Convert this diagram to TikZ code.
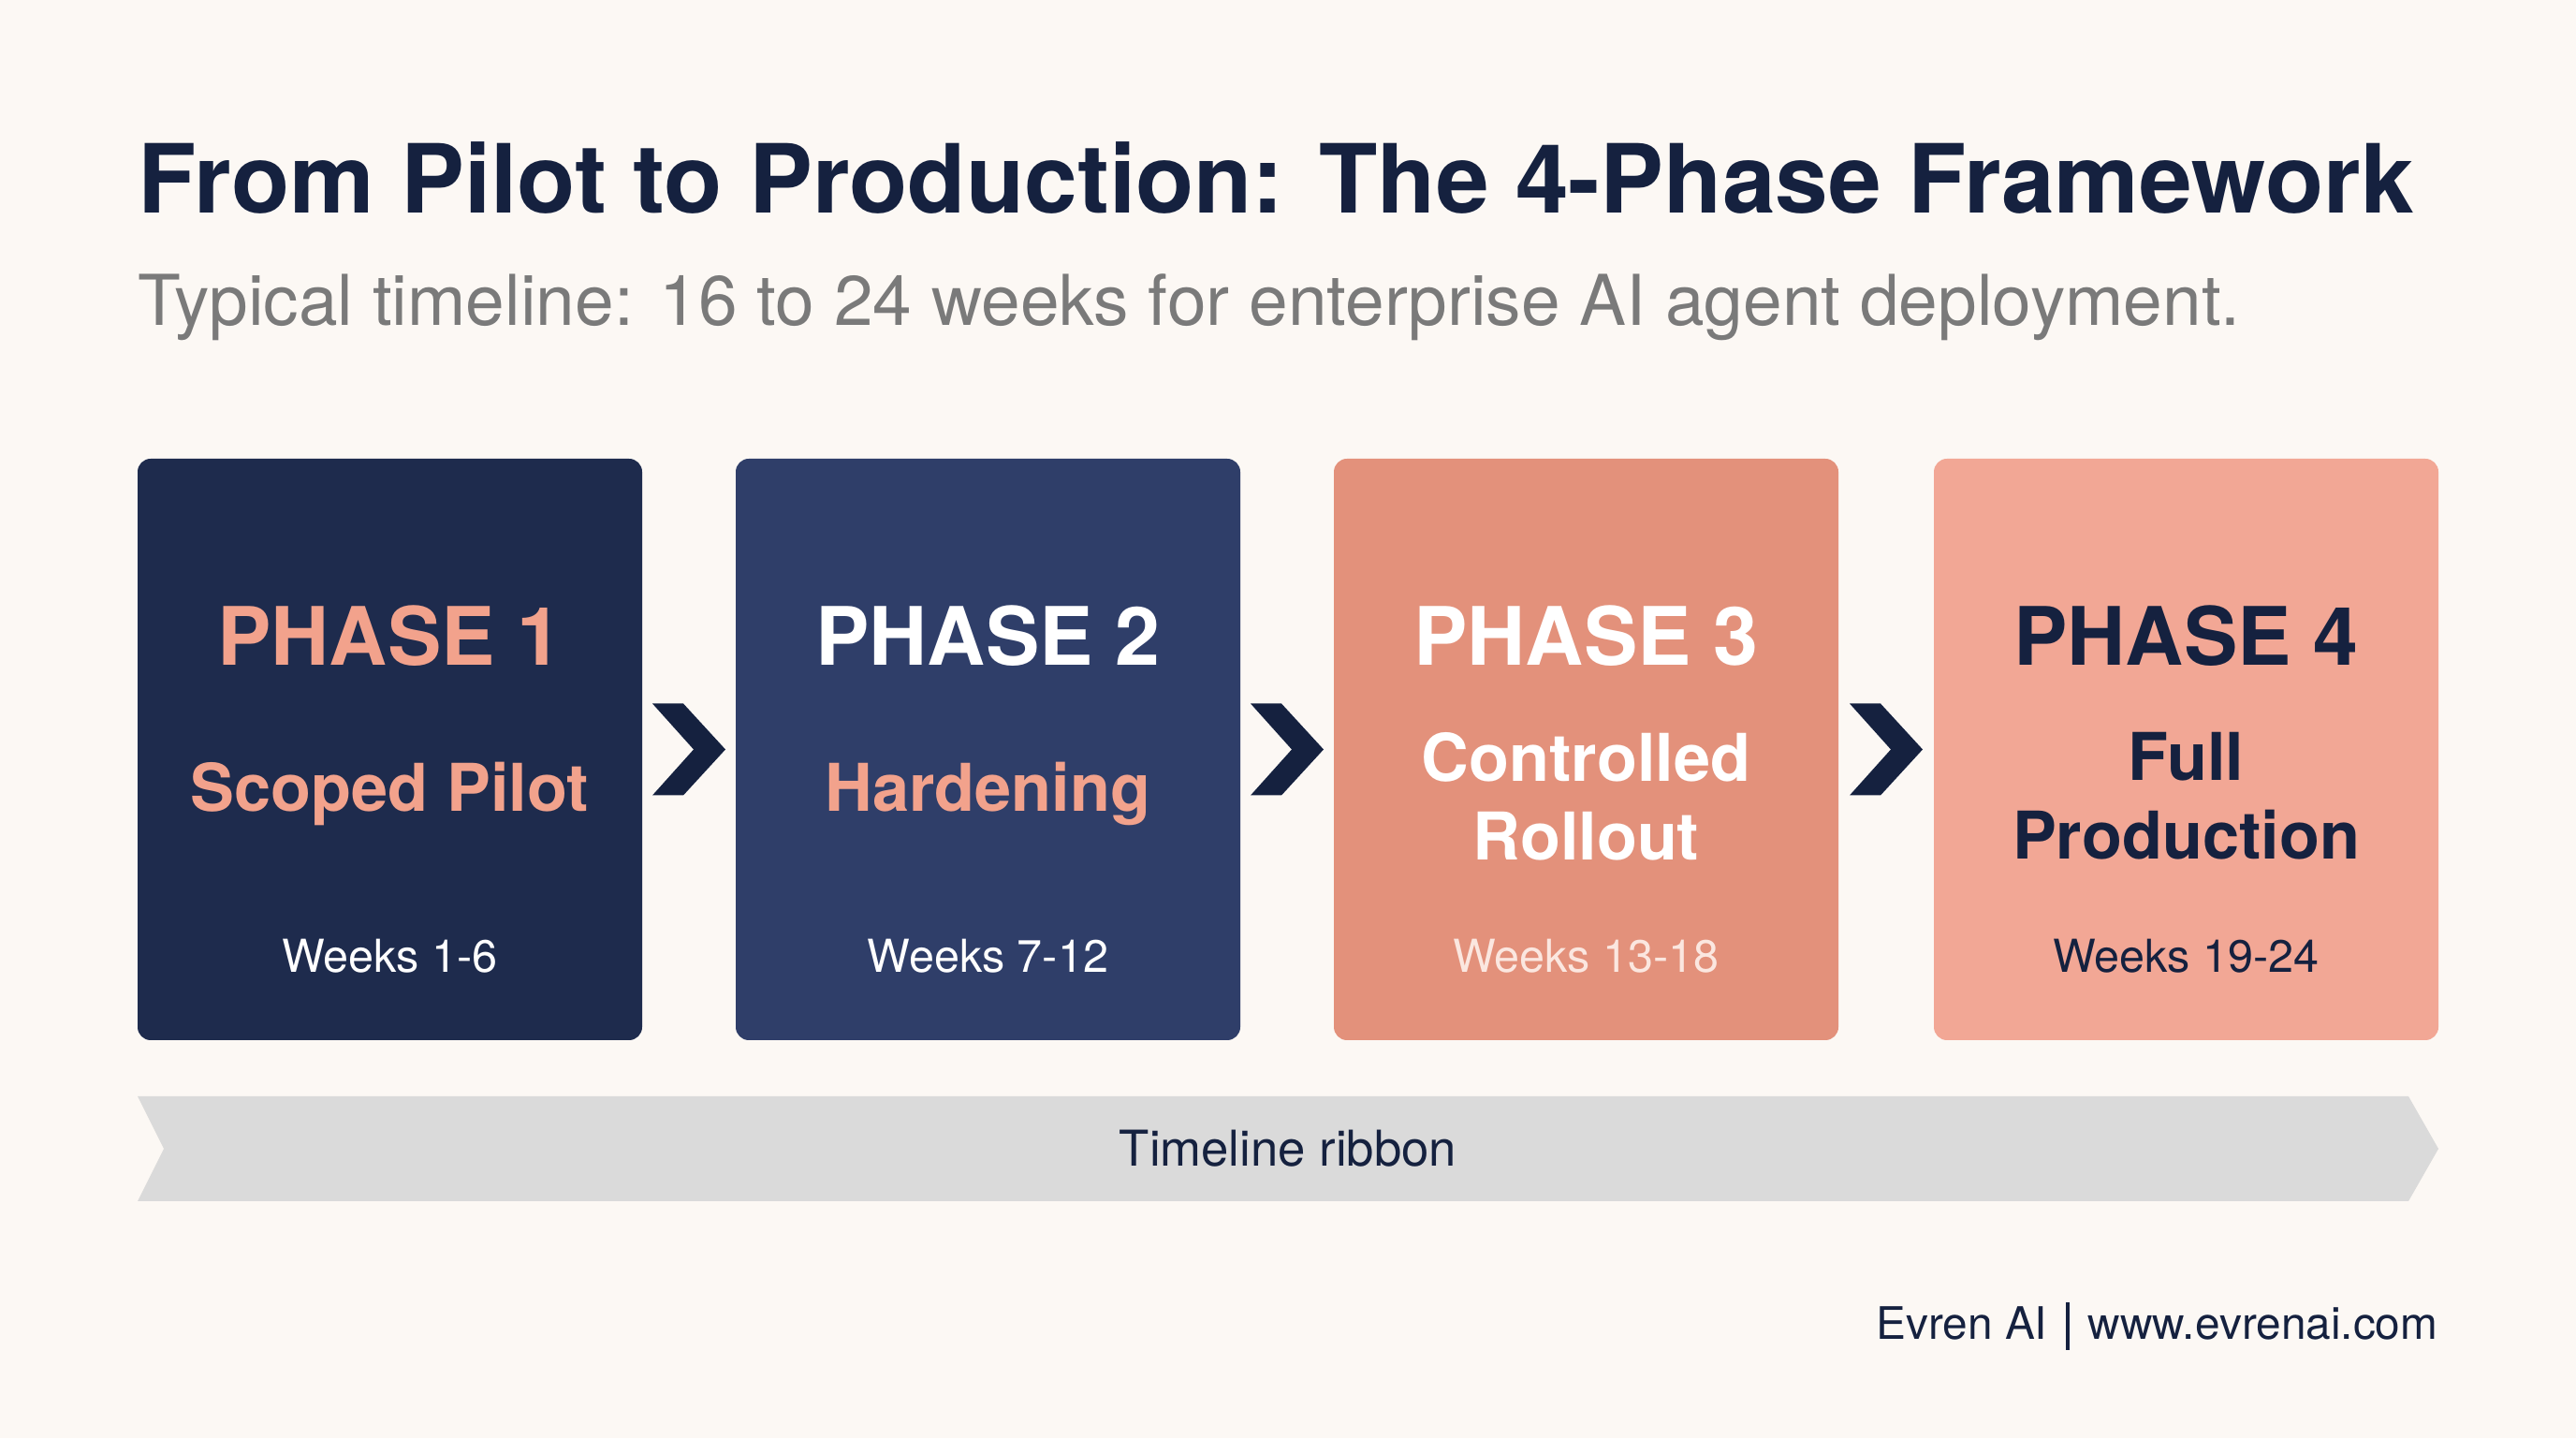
\documentclass[tikz,border=0pt]{standalone}
\usepackage{fontspec}
\setmainfont{TeX Gyre Heros}
\usetikzlibrary{calc,positioning}
\definecolor{bgcream}{HTML}{FCF8F4}
\definecolor{titlenavy}{HTML}{15213F}
\definecolor{subgray}{HTML}{7A7A7A}
\definecolor{boxone}{HTML}{1E2B4D}
\definecolor{boxtwo}{HTML}{2F3E69}
\definecolor{boxthree}{HTML}{E3917B}
\definecolor{boxfour}{HTML}{F2A795}
\definecolor{salmon}{HTML}{F2A28C}
\definecolor{palewhite}{HTML}{FBE7E0}
\definecolor{ribbongray}{HTML}{DADADA}

\begin{document}
\begin{tikzpicture}[
    phasebox/.style={rounded corners=0.14cm, minimum width=5.39cm, minimum height=6.21cm, inner sep=0pt},
    phasetitle/.style={font=\bfseries\fontsize{24.5}{28}\selectfont},
    phasename/.style={font=\bfseries\fontsize{20}{24}\selectfont, align=center},
    weeks/.style={font=\fontsize{13.8}{17}\selectfont}]
    % background and page size
    \fill[bgcream] (0,0) rectangle (27.52,15.36);
    % heading
    \node[anchor=base west, text=titlenavy, font=\bfseries\fontsize{29}{34}\selectfont, inner sep=0pt] (title) at (1.47,13.08) {From Pilot to Production: The 4-Phase Framework};
    \node[anchor=base west, text=subgray, font=\fontsize{21.3}{26}\selectfont, inner sep=0pt] (sub) at (1.47,11.88) {Typical timeline: 16 to 24 weeks for enterprise AI agent deployment.};
    % phase boxes
    \node[phasebox, fill=boxone] (p1) at (4.165,7.355) {};
    \node[phasebox, fill=boxtwo] (p2) at (10.555,7.355) {};
    \node[phasebox, fill=boxthree] (p3) at (16.945,7.355) {};
    \node[phasebox, fill=boxfour] (p4) at (23.355,7.355) {};
    \node[phasetitle, text=salmon] (t1) at ([yshift=1.215cm]p1.center) {PHASE 1};
    \node[phasetitle, text=white] (t2) at ([yshift=1.215cm]p2.center) {PHASE 2};
    \node[phasetitle, text=white] (t3) at ([yshift=1.215cm]p3.center) {PHASE 3};
    \node[phasetitle, text=titlenavy] (t4) at ([yshift=1.215cm]p4.center) {PHASE 4};
    \node[phasename, text=salmon] (n1) at ([yshift=-0.47cm]p1.center) {Scoped Pilot};
    \node[phasename, text=salmon] (n2) at ([yshift=-0.47cm]p2.center) {Hardening};
    \node[phasename, text=white] (n3) at ([yshift=-0.5cm]p3.center) {Controlled\\Rollout};
    \node[phasename, text=titlenavy] (n4) at ([yshift=-0.5cm]p4.center) {Full\\Production};
    \node[weeks, text=white] (w1) at ([yshift=-2.205cm]p1.center) {Weeks 1-6};
    \node[weeks, text=white] (w2) at ([yshift=-2.205cm]p2.center) {Weeks 7-12};
    \node[weeks, text=palewhite] (w3) at ([yshift=-2.205cm]p3.center) {Weeks 13-18};
    \node[weeks, text=titlenavy] (w4) at ([yshift=-2.205cm]p4.center) {Weeks 19-24};
    % chevrons between the boxes
    \foreach \i/\j in {1/2,2/3,3/4}{
        \coordinate (c\i) at ($(p\i.east)!0.5!(p\j.west)$);
        \fill[titlenavy] (c\i) ++(-0.39,0.49) -- ++(0.33,0) -- ++(0.45,-0.49) -- ++(-0.45,-0.49) -- ++(-0.33,0) -- ++(0.44,0.49) -- cycle;
    }
    % timeline ribbon
    \fill[ribbongray] (1.47,3.65) -- (25.73,3.65) -- (26.05,3.09) -- (25.73,2.53) -- (1.47,2.53) -- (1.75,3.09) -- cycle;
    \node[text=titlenavy, font=\fontsize{15}{18}\selectfont] (rib) at (13.76,3.09) {Timeline ribbon};
    % footer
    \node[anchor=east, text=titlenavy, font=\fontsize{13.6}{17}\selectfont, inner sep=0pt] (foot) at (26.05,1.20) {Evren AI\hspace{0.2cm}\rule[-0.11cm]{1pt}{0.51cm}\hspace{0.2cm}www.evrenai.com};
\end{tikzpicture}
\end{document}
